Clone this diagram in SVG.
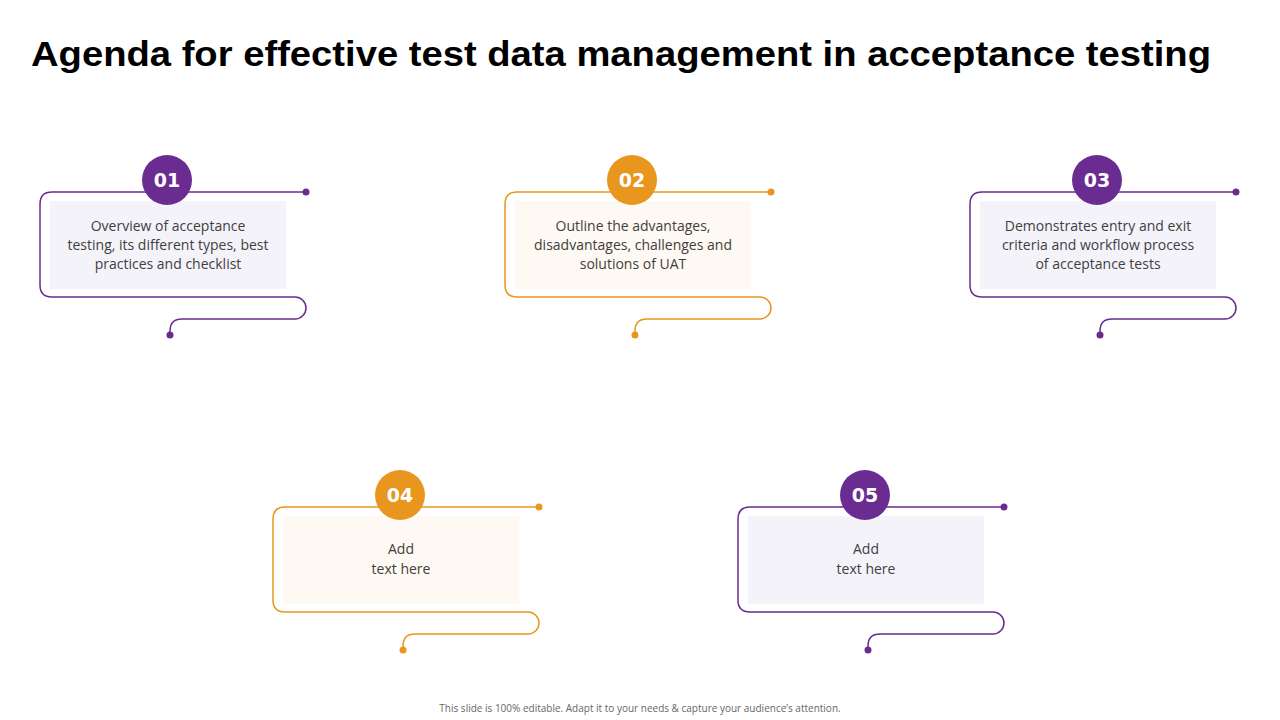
<svg xmlns="http://www.w3.org/2000/svg" width="1280" height="720" viewBox="0 0 1280 720">
<style>
.pu{--c:#6A2C91;--b:#F5F3FA}
.or{--c:#E8961E;--b:#FEF9F2}
.ln{fill:none;stroke:var(--c);stroke-width:1.5}
.d,.c{fill:var(--c)}
.b{fill:var(--b)}
.n{font:bold 19px "DejaVu Sans",sans-serif;fill:#fff;text-anchor:middle}
.t{font:14px "Open Sans","Liberation Sans",sans-serif;fill:#404040;text-anchor:middle}
</style>
<rect width="1280" height="720" fill="#fff"/>
<text x="31" y="66" font-family="Liberation Sans,Arial,sans-serif" font-weight="bold" font-size="35" fill="#000" textLength="1180" lengthAdjust="spacingAndGlyphs">Agenda for effective test data management in acceptance testing</text>
<defs>
<g id="frame">
<path class="ln" d="M266,0 H12 Q0,0 0,12 V93 Q0,105 12,105 H255 A11,11 0 0 1 255,127 H142 Q130,127 130,139 V143"/>
<circle class="d" cx="266" cy="0" r="3.5"/><circle class="d" cx="130" cy="143" r="3.5"/>
<rect class="b" x="10" y="9" width="236" height="88"/>
<circle class="c" cx="127" cy="-12" r="25"/>
</g>
</defs>
<g id="n1" class="pu" transform="translate(40,192)"><use href="#frame"/><text class="n" x="127" y="-5">01</text>
<text class="t"><tspan x="128" y="39">Overview of acceptance</tspan><tspan x="128" y="58">testing, its different types, best</tspan><tspan x="128" y="77">practices and checklist</tspan></text></g>
<g id="n2" class="or" transform="translate(505,192)"><use href="#frame"/><text class="n" x="127" y="-5">02</text>
<text class="t"><tspan x="128" y="39">Outline the advantages,</tspan><tspan x="128" y="58">disadvantages, challenges and</tspan><tspan x="128" y="77">solutions of UAT</tspan></text></g>
<g id="n3" class="pu" transform="translate(970,192)"><use href="#frame"/><text class="n" x="127" y="-5">03</text>
<text class="t"><tspan x="128" y="39">Demonstrates entry and exit</tspan><tspan x="128" y="58">criteria and workflow process</tspan><tspan x="128" y="77">of acceptance tests</tspan></text></g>
<g id="n4" class="or" transform="translate(273,507)"><use href="#frame"/><text class="n" x="127" y="-5">04</text>
<text class="t"><tspan x="128" y="47">Add</tspan><tspan x="128" y="67">text here</tspan></text></g>
<g id="n5" class="pu" transform="translate(738,507)"><use href="#frame"/><text class="n" x="127" y="-5">05</text>
<text class="t"><tspan x="128" y="47">Add</tspan><tspan x="128" y="67">text here</tspan></text></g>
<g id="connectors"/>
<text x="640" y="712" text-anchor="middle" font-family="Open Sans,Liberation Sans,sans-serif" font-size="10" fill="#666">This slide is 100% editable. Adapt it to your needs &amp; capture your audience’s attention.</text>
</svg>
